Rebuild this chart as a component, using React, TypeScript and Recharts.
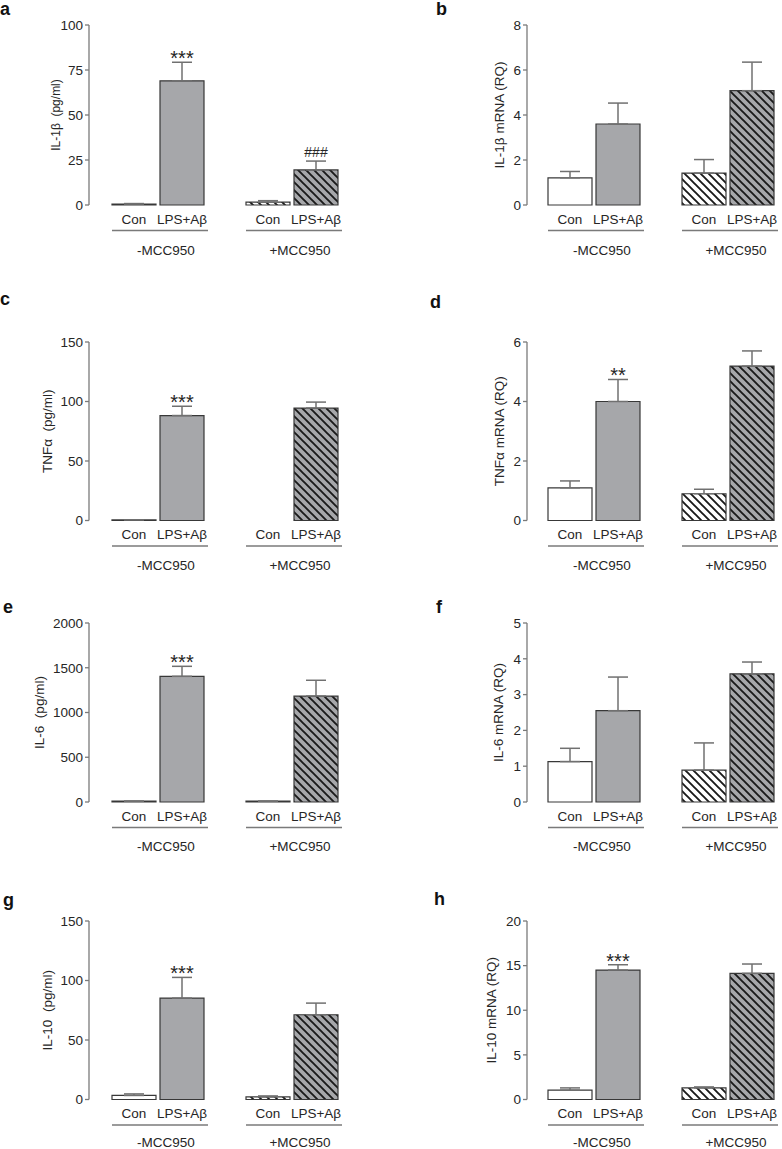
import React from 'react';
import { BarChart, Bar, XAxis, YAxis, ErrorBar, Cell, LabelList } from 'recharts';

const FONT = '"Liberation Sans", Arial, Helvetica, sans-serif';
const groups = ['-MCC950', '+MCC950'];
const treatments = ['Con', 'LPS+Aβ'];

// a: IL-1β (pg/ml)
const aCon = [0.5, 1.6];
const aConErr = [0.3, 0.8];
const aLps = [69, 19.5];
const aLpsErr = [10.3, 4.9];
const aMarks = ['***', '###'];
const aTicks = [0, 25, 50, 75, 100];

// b: IL-1β mRNA (RQ)
const bCon = [1.21, 1.42];
const bConErr = [0.28, 0.6];
const bLps = [3.6, 5.08];
const bLpsErr = [0.93, 1.27];
const bMarks = ['', ''];
const bTicks = [0, 2, 4, 6, 8];

// c: TNFα (pg/ml)
const cCon = [0.6, 0];
const cConErr = [0, 0];
const cLps = [88.2, 94.5];
const cLpsErr = [7.8, 5];
const cMarks = ['***', ''];
const cTicks = [0, 50, 100, 150];

// d: TNFα mRNA (RQ)
const dCon = [1.1, 0.9];
const dConErr = [0.23, 0.15];
const dLps = [4.0, 5.19];
const dLpsErr = [0.74, 0.51];
const dMarks = ['**', ''];
const dTicks = [0, 2, 4, 6];

// e: IL-6 (pg/ml)
const eCon = [9, 9];
const eConErr = [0, 0];
const eLps = [1404, 1184];
const eLpsErr = [112, 176];
const eMarks = ['***', ''];
const eTicks = [0, 500, 1000, 1500, 2000];

// f: IL-6 mRNA (RQ)
const fCon = [1.13, 0.89];
const fConErr = [0.37, 0.76];
const fLps = [2.55, 3.58];
const fLpsErr = [0.94, 0.33];
const fMarks = ['', ''];
const fTicks = [0, 1, 2, 3, 4, 5];

// g: IL-10 (pg/ml)
const gCon = [3.4, 2.2];
const gConErr = [1.3, 0.8];
const gLps = [85.2, 71.2];
const gLpsErr = [17.4, 9.8];
const gMarks = ['***', ''];
const gTicks = [0, 50, 100, 150];

// h: IL-10 mRNA (RQ)
const hCon = [1.04, 1.3];
const hConErr = [0.26, 0.11];
const hLps = [14.5, 14.13];
const hLpsErr = [0.6, 1.05];
const hMarks = ['***', ''];
const hTicks = [0, 5, 10, 15, 20];

const BAR = 44;
const GAP = 4;
const AX = '#7a7a7a';
const EB = '#707070';
const GRAY = '#a6a7aa';
const OUT = '#383838';
const TXT = '#262626';

type PanelProps = {
  id: string;
  col: 'L' | 'R';
  svgTop: number;
  plotTop: number;
  plotBottom: number;
  groupDy: number;
  yLabel: string;
  labelOff: number;
  labelSize: number;
  ticks: number[];
  con: number[];
  conErr: number[];
  lps: number[];
  lpsErr: number[];
  marks: string[];
};

function makeGroupTick(groupDy: number) {
  return function GroupTick(props: any) {
    const { x, y, payload } = props;
    const off = (BAR + GAP) / 2;
    return (
      <g fontFamily={FONT}>
        <text x={x - off} y={y + 18.5} textAnchor="middle" fontSize={13.5} fill={TXT}>{treatments[0]}</text>
        <text x={x + off} y={y + 18.5} textAnchor="middle" fontSize={13.5} fill={TXT}>{treatments[1]}</text>
        <line x1={x - 46} x2={x + 50} y1={y + 25.5} y2={y + 25.5} stroke={AX} strokeWidth={1.3} />
        <text x={x + 8} y={y + groupDy} textAnchor="middle" fontSize={13.5} fill={TXT}>{payload.value}</text>
      </g>
    );
  };
}

function Panel(p: PanelProps) {
  const data = groups.map((g, i) => ({
    group: g,
    con: p.con[i],
    conE: [0, p.conErr[i]],
    lps: p.lps[i],
    lpsE: [0, p.lpsErr[i]],
    mark: p.marks[i],
  }));
  const isL = p.col === 'L';
  const yw = isL ? 89 : 136;
  const width = isL ? 391 : 414;
  const mr = isL ? 32 : 10;
  const xh = 60;
  const height = p.plotBottom - p.svgTop + xh;
  const mt = p.plotTop - p.svgTop;
  const maxV = p.ticks[p.ticks.length - 1];
  const hw = `hw-${p.id}`;
  const hg = `hg-${p.id}`;
  const GroupTick = makeGroupTick(p.groupDy);

  const renderMark = (props: any) => {
    const vb = props.viewBox || {};
    const x = props.x ?? vb.x;
    const y = props.y ?? vb.y;
    const w = props.width ?? vb.width;
    const h = props.height ?? vb.height;
    const idx = props.index;
    const txt = data[idx] ? data[idx].mark : '';
    if (!txt) return null;
    const v = data[idx].lps;
    const e = data[idx].lpsE[1];
    const errTop = y - (h / v) * e;
    const isHash = txt[0] === '#';
    return (
      <text
        x={x + w / 2}
        y={isHash ? errTop - 4.5 : errTop + 3}
        textAnchor="middle"
        fontFamily={FONT}
        fontSize={isHash ? 14 : 20}
        fill={TXT}
      >
        {txt}
      </text>
    );
  };

  const renderYLabel = (props: any) => {
    const vb = props.viewBox || {};
    const cx = vb.x + vb.width - p.labelOff;
    const cy = vb.y + vb.height / 2;
    return (
      <text
        x={cx}
        y={cy}
        transform={`rotate(-90 ${cx} ${cy})`}
        textAnchor="middle"
        dominantBaseline="central"
        fontFamily={FONT}
        fontSize={p.labelSize}
        fill={TXT}
        style={{ whiteSpace: 'pre' }}
      >
        {p.yLabel}
      </text>
    );
  };

  return (
    <div style={{ position: 'absolute', left: isL ? 0 : 391, top: p.svgTop }}>
      <BarChart
        width={width}
        height={height}
        data={data}
        margin={{ top: mt, right: mr, left: 0, bottom: 0 }}
        barGap={GAP}
        barSize={BAR}
      >
        <defs>
          <pattern id={hw} width={8} height={8} patternUnits="userSpaceOnUse">
            <rect width={8} height={8} fill="#ffffff" />
            <path d="M-2,-2 L10,10 M-2,6 L2,10 M6,-2 L10,2" stroke="#1a1a1a" strokeWidth={1.9} />
          </pattern>
          <pattern id={hg} width={8} height={8} patternUnits="userSpaceOnUse">
            <rect width={8} height={8} fill={GRAY} />
            <path d="M-2,-2 L10,10 M-2,6 L2,10 M6,-2 L10,2" stroke="#1a1a1a" strokeWidth={1.9} />
          </pattern>
        </defs>
        <XAxis
          dataKey="group"
          height={xh}
          axisLine={false}
          tickLine={false}
          tickSize={0}
          tickMargin={0}
          interval={0}
          padding={{ left: isL ? 2 : 0, right: 0 }}
          tick={<GroupTick />}
        />
        <YAxis
          type="number"
          domain={[0, maxV]}
          ticks={p.ticks}
          interval={0}
          width={yw}
          axisLine={{ stroke: AX, strokeWidth: 1.3 }}
          tickLine={{ stroke: AX, strokeWidth: 1.3 }}
          tickSize={4}
          tickMargin={2}
          tick={{ fill: TXT, fontSize: 13.5, fontFamily: FONT }}
          label={renderYLabel}
        />
        <Bar dataKey="con" isAnimationActive={false} stroke={OUT} strokeWidth={1.2}>
          {data.map((d, i) => (
            <Cell key={i} fill={i === 0 ? '#ffffff' : `url(#${hw})`} />
          ))}
          <ErrorBar dataKey="conE" width={10} stroke={EB} strokeWidth={1.5} direction="y" />
        </Bar>
        <Bar dataKey="lps" isAnimationActive={false} stroke={OUT} strokeWidth={1.2}>
          {data.map((d, i) => (
            <Cell key={i} fill={i === 0 ? GRAY : `url(#${hg})`} />
          ))}
          <ErrorBar dataKey="lpsE" width={10} stroke={EB} strokeWidth={1.5} direction="y" />
          <LabelList dataKey="mark" content={renderMark} />
        </Bar>
      </BarChart>
    </div>
  );
}

const letters = [
  { t: 'a', x: 0, y: 15 },
  { t: 'b', x: 436, y: 15 },
  { t: 'c', x: 0, y: 305 },
  { t: 'd', x: 430, y: 308 },
  { t: 'e', x: 3, y: 613 },
  { t: 'f', x: 436, y: 613 },
  { t: 'g', x: 3, y: 906 },
  { t: 'h', x: 434, y: 905 },
];

export default function App() {
  return (
    <div
      style={{
        position: 'absolute',
        left: 0,
        top: 0,
        width: 782,
        height: 1149,
        overflow: 'hidden',
        background: '#ffffff',
      }}
    >
      <Panel id="a" col="L" svgTop={0} plotTop={25} plotBottom={205} groupDy={49.5} yLabel="IL-1β  (pg/ml)" labelOff={33} labelSize={12} ticks={aTicks} con={aCon} conErr={aConErr} lps={aLps} lpsErr={aLpsErr} marks={aMarks} />
      <Panel id="b" col="R" svgTop={0} plotTop={25} plotBottom={205} groupDy={49.5} yLabel="IL-1β mRNA (RQ)" labelOff={28} labelSize={13.5} ticks={bTicks} con={bCon} conErr={bConErr} lps={bLps} lpsErr={bLpsErr} marks={bMarks} />
      <Panel id="c" col="L" svgTop={290} plotTop={342} plotBottom={520.5} groupDy={49.5} yLabel="TNFα  (pg/ml)" labelOff={42} labelSize={13.5} ticks={cTicks} con={cCon} conErr={cConErr} lps={cLps} lpsErr={cLpsErr} marks={cMarks} />
      <Panel id="d" col="R" svgTop={290} plotTop={342} plotBottom={520.5} groupDy={49.5} yLabel="TNFα mRNA (RQ)" labelOff={28} labelSize={13.5} ticks={dTicks} con={dCon} conErr={dConErr} lps={dLps} lpsErr={dLpsErr} marks={dMarks} />
      <Panel id="e" col="L" svgTop={580} plotTop={623} plotBottom={802} groupDy={49} yLabel="IL-6  (pg/ml)" labelOff={50} labelSize={13.5} ticks={eTicks} con={eCon} conErr={eConErr} lps={eLps} lpsErr={eLpsErr} marks={eMarks} />
      <Panel id="f" col="R" svgTop={580} plotTop={623} plotBottom={802} groupDy={49} yLabel="IL-6 mRNA (RQ)" labelOff={29} labelSize={13.5} ticks={fTicks} con={fCon} conErr={fConErr} lps={fLps} lpsErr={fLpsErr} marks={fMarks} />
      <Panel id="g" col="L" svgTop={870} plotTop={921} plotBottom={1099.5} groupDy={47} yLabel="IL-10  (pg/ml)" labelOff={42} labelSize={13.5} ticks={gTicks} con={gCon} conErr={gConErr} lps={gLps} lpsErr={gLpsErr} marks={gMarks} />
      <Panel id="h" col="R" svgTop={870} plotTop={921} plotBottom={1099.5} groupDy={47} yLabel="IL-10 mRNA (RQ)" labelOff={36} labelSize={13.5} ticks={hTicks} con={hCon} conErr={hConErr} lps={hLps} lpsErr={hLpsErr} marks={hMarks} />
      <svg
        width={782}
        height={1149}
        style={{ position: 'absolute', left: 0, top: 0, pointerEvents: 'none' }}
      >
        {letters.map((l) => (
          <text key={l.t} x={l.x} y={l.y} fontFamily={FONT} fontSize={18} fontWeight="bold" fill="#111">
            {l.t}
          </text>
        ))}
      </svg>
    </div>
  );
}
